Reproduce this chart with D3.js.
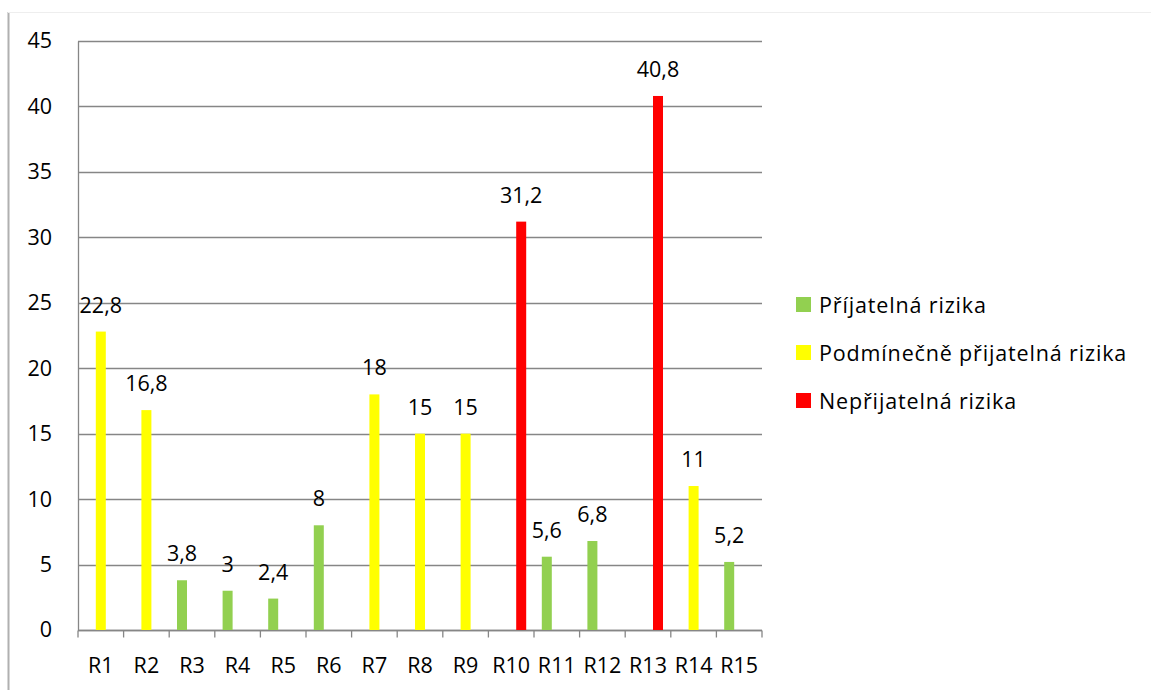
<!DOCTYPE html>
<html>
<head>
<meta charset="utf-8">
<script src="https://cdn.jsdelivr.net/npm/d3@7"></script>
<style>
  html, body { margin: 0; padding: 0; background: #fff; }
  svg { display: block; }
  text { font-family: "Open Sans", sans-serif; fill: #000; }
</style>
</head>
<body>
<svg id="chart" width="1151" height="690"></svg>
<script>
// Risk scores per risk item, split into three risk classes
const categories = ["R1","R2","R3","R4","R5","R6","R7","R8","R9","R10","R11","R12","R13","R14","R15"];
const seriesNames = ["Příjatelná rizika", "Podmínečně přijatelná rizika", "Nepřijatelná rizika"];
const seriesColors = ["#92D050", "#FFFF00", "#FF0000"];
// null = item not in this class
const acceptable   = [null, null, 3.8, 3, 2.4, 8, null, null, null, null, 5.6, 6.8, null, null, 5.2];
const conditional  = [22.8, 16.8, null, null, null, null, 18, 15, 15, null, null, null, null, 11, null];
const unacceptable = [null, null, null, null, null, null, null, null, null, 31.2, null, null, 40.8, null, null];
const yTicks = [0, 5, 10, 15, 20, 25, 30, 35, 40, 45];

const seriesValues = [acceptable, conditional, unacceptable];
const fmt = v => String(v).replace(".", ",");

const svg = d3.select("#chart");
const plot = { left: 78, right: 762, top: 41, bottom: 630 };
const fontSize = 21.5;

// outer frame lines
svg.append("line").attr("x1", 8.5).attr("x2", 8.5).attr("y1", 12).attr("y2", 690)
  .attr("stroke", "#b0b0b0").attr("stroke-width", 2);
svg.append("line").attr("x1", 8).attr("x2", 1151).attr("y1", 12.5).attr("y2", 12.5)
  .attr("stroke", "#eeeeee").attr("stroke-width", 1);

const x = d3.scaleBand().domain(categories).range([plot.left, plot.right]).paddingInner(0).paddingOuter(0);
const xs = d3.scaleBand().domain(d3.range(seriesNames.length)).range([x.bandwidth() / 2 - 15, x.bandwidth() / 2 + 15]);
const y = d3.scaleLinear().domain([0, 45]).range([plot.bottom, plot.top]);

// horizontal gridlines
svg.append("g").selectAll("line").data(yTicks).join("line")
  .attr("x1", plot.left).attr("x2", plot.right)
  .attr("y1", d => Math.round(y(d)) + 0.5).attr("y2", d => Math.round(y(d)) + 0.5)
  .attr("stroke", "#868686").attr("stroke-width", 1.3);

// y axis
const yAxis = svg.append("g").attr("transform", `translate(${plot.left},0)`)
  .call(d3.axisLeft(y).tickValues(yTicks).tickSize(0).tickPadding(26).tickFormat(d3.format("d")));
yAxis.select(".domain").attr("stroke", "#868686").attr("stroke-width", 1.3);
yAxis.selectAll("text").attr("font-size", fontSize).attr("font-family", "'Open Sans', sans-serif").attr("fill", "#000");

// x axis with boundary ticks
const xAxisG = svg.append("g").attr("transform", `translate(0,${Math.round(plot.bottom) + 0.5})`);
xAxisG.append("line").attr("x1", plot.left).attr("x2", plot.right).attr("stroke", "#868686").attr("stroke-width", 1.3);
const boundaries = categories.map(c => x(c)).concat([plot.right]);
xAxisG.selectAll("line.tick").data(boundaries).join("line").attr("class", "tick")
  .attr("x1", d => d).attr("x2", d => d).attr("y1", 0).attr("y2", 7)
  .attr("stroke", "#868686").attr("stroke-width", 1.3);
xAxisG.selectAll("text").data(categories).join("text")
  .attr("x", d => x(d) + x.bandwidth() / 2).attr("y", 42)
  .attr("text-anchor", "middle").attr("font-size", fontSize).text(d => d);

// bars and value labels
const barData = [];
seriesValues.forEach((vals, si) => vals.forEach((v, ci) => {
  if (v !== null) barData.push({ si, cat: categories[ci], v });
}));

svg.append("g").selectAll("rect").data(barData).join("rect")
  .attr("x", d => x(d.cat) + xs(d.si))
  .attr("width", xs.bandwidth())
  .attr("y", d => y(d.v))
  .attr("height", d => y(0) - y(d.v))
  .attr("fill", d => seriesColors[d.si]);

svg.append("g").selectAll("text").data(barData).join("text")
  .attr("x", d => x(d.cat) + xs(d.si) + xs.bandwidth() / 2)
  .attr("y", d => y(d.v) - 19)
  .attr("text-anchor", "middle").attr("font-size", fontSize)
  .text(d => fmt(d.v));

// legend
const legend = svg.append("g").attr("transform", "translate(796,297)");
const items = legend.selectAll("g").data(seriesNames).join("g")
  .attr("transform", (d, i) => `translate(0,${i * 48})`);
items.append("rect").attr("width", 15).attr("height", 15).attr("fill", (d, i) => seriesColors[i]);
items.append("text").attr("x", 23).attr("y", 16).attr("font-size", fontSize)
  .attr("letter-spacing", 0.85).text(d => d);
</script>
</body>
</html>
